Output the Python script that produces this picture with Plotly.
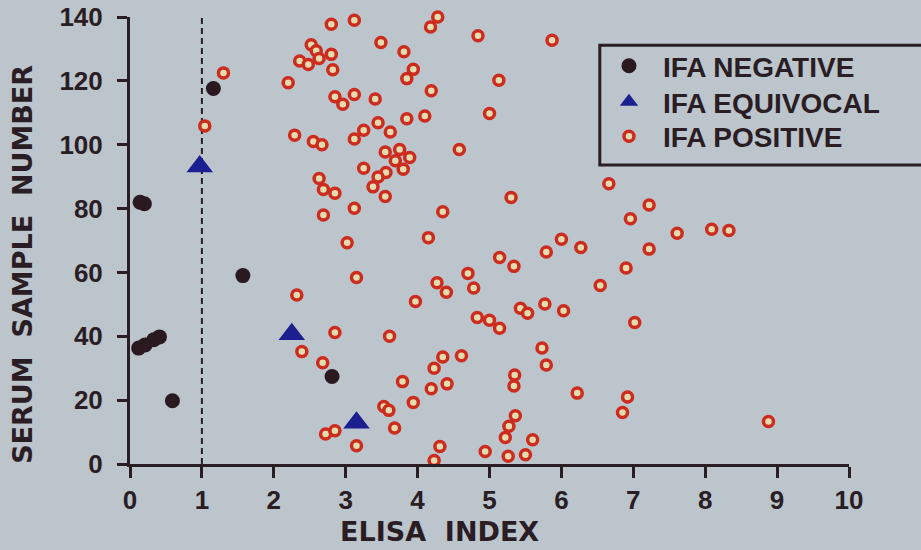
import plotly.graph_objects as go

# ---- data (ELISA index vs serum sample number) ----
neg_x = [0.14, 0.20, 1.16, 1.57, 0.12, 0.21, 0.33, 0.41, 0.59, 2.81]
neg_y = [82.0, 81.5, 117.6, 59.0, 36.3, 37.3, 38.9, 39.8, 19.8, 27.4]

eq_x = [0.97, 2.25, 3.15]
eq_y = [93.2, 40.6, 12.9]

pos_x = [1.30, 1.04, 2.20, 2.29, 2.55, 2.67, 2.80, 3.12, 2.52, 2.59,
         2.63, 2.80, 2.36, 2.48, 2.82, 3.49, 3.81, 3.94, 3.85, 4.19,
         4.18, 4.28, 4.84, 5.87, 5.13, 5.00, 4.58, 2.85, 2.96, 3.12,
         3.41, 3.12, 3.25, 3.45, 3.62, 3.85, 4.10, 3.55, 3.75, 3.69,
         3.89, 3.80, 3.25, 3.56, 3.45, 3.38, 3.55, 2.63, 2.69, 2.85,
         3.12, 2.69, 3.02, 4.15, 4.35, 5.30, 6.66, 7.22, 6.96, 7.61,
         8.09, 8.33, 7.22, 6.27, 6.00, 5.79, 6.90, 6.54, 7.02, 5.14,
         5.34, 4.70, 4.27, 4.40, 4.78, 3.97, 5.43, 5.53, 5.77, 6.03,
         4.83, 5.00, 5.14, 3.61, 3.15, 2.32, 2.85, 2.39, 2.68, 5.73,
         5.79, 4.61, 4.35, 4.23, 5.35, 5.34, 3.79, 4.41, 4.19, 6.22,
         6.92, 6.85, 8.88, 3.53, 3.60, 3.94, 5.36, 5.27, 5.22, 5.60,
         3.68, 2.72, 2.85, 3.15, 4.31, 4.94, 5.26, 5.50, 4.23]
pos_y = [122.5, 105.9, 119.4, 103.0, 101.0, 100.0, 137.7, 139.0, 131.3, 129.4,
         127.0, 128.3, 126.2, 125.1, 123.5, 132.0, 129.1, 123.6, 120.7, 116.9,
         136.9, 140.0, 134.1, 132.7, 120.2, 109.8, 98.5, 115.0, 112.7, 115.7,
         114.3, 101.8, 104.5, 106.9, 104.0, 108.1, 109.0, 97.7, 98.5, 95.0,
         96.0, 92.3, 92.6, 91.3, 89.9, 86.8, 83.8, 89.4, 86.0, 84.8,
         80.1, 78.0, 69.3, 70.9, 79.0, 83.5, 87.8, 81.1, 76.8, 72.3,
         73.5, 73.1, 67.3, 67.8, 70.4, 66.4, 61.4, 55.9, 44.3, 64.7,
         61.9, 59.7, 56.8, 53.8, 55.1, 50.9, 48.8, 47.2, 50.1, 48.0,
         45.9, 45.0, 42.5, 40.0, 58.4, 52.9, 41.2, 35.2, 31.7, 36.3,
         31.0, 33.9, 33.5, 30.0, 27.9, 24.4, 25.8, 25.1, 23.6, 22.2,
         21.0, 16.1, 13.3, 18.0, 16.8, 19.3, 15.1, 11.8, 8.3, 7.6,
         11.3, 9.4, 10.4, 5.7, 5.5, 3.9, 2.4, 2.9, 1.1]

x_ticks = [0, 1, 2, 3, 4, 5, 6, 7, 8, 9, 10]
y_ticks = [0, 20, 40, 60, 80, 100, 120, 140]
cutoff = 1.0

INK = '#2a1d23'
BG = '#bcc4cc'

fig = go.Figure()
fig.add_trace(go.Scatter(
    x=neg_x, y=neg_y, mode='markers', name='IFA NEGATIVE', cliponaxis=False,
    legend='legend',
    marker=dict(symbol='circle', size=15, color='#2a1a20')))
fig.add_trace(go.Scatter(
    x=eq_x, y=eq_y, mode='markers', name='IFA EQUIVOCAL', cliponaxis=False,
    legend='legend2',
    marker=dict(symbol='triangle-up', size=23, color='#1c1f8f')))
fig.add_trace(go.Scatter(
    x=pos_x, y=pos_y, mode='markers', name='IFA POSITIVE', cliponaxis=False,
    legend='legend3',
    marker=dict(symbol='circle', size=10, color='#e3dcae',
                line=dict(color='#cc2b1d', width=3.5))))

fig.add_shape(type='line', xref='x', yref='y', x0=cutoff, x1=cutoff, y0=0, y1=140,
              line=dict(color=INK, width=2, dash='6px,4px'), layer='below')

# legend frame (runs off the right edge as in the original)
fig.add_shape(type='rect', xref='paper', yref='paper', x0=0.6534, x1=1.3,
              y0=0.6687, y1=0.9368, line=dict(color=INK, width=3),
              fillcolor='rgba(0,0,0,0)')

tick_font = dict(family='Liberation Sans, Arial', size=26, color=INK, weight='bold')
title_font = dict(family='DejaVu Sans', size=27, color=INK, weight='bold')
leg_font = dict(family='Liberation Sans, Arial', size=28, color=INK, weight='bold')

fig.update_xaxes(range=[0, 10], tickvals=x_ticks, ticktext=[str(v) for v in x_ticks],
                 showline=True, linecolor=INK, linewidth=3, ticks='outside', ticklen=11,
                 tickwidth=3, tickcolor=INK, showgrid=False, zeroline=False,
                 tickfont=tick_font, ticklabelstandoff=0, automargin=False)
fig.update_yaxes(range=[0, 140], tickvals=y_ticks, ticktext=[str(v) for v in y_ticks],
                 showline=True, linecolor=INK, linewidth=3, ticks='outside', ticklen=10,
                 tickwidth=3, tickcolor=INK, showgrid=False, zeroline=False,
                 tickfont=tick_font, ticklabelstandoff=9, automargin=False)

fig.add_annotation(text='ELISA  INDEX', xref='paper', yref='paper', x=0.4304, y=-0.152,
                   xanchor='center', yanchor='middle', showarrow=False, font=title_font)
fig.add_annotation(text='SERUM  SAMPLE  NUMBER', xref='paper', yref='paper', x=-0.149,
                   y=0.4475, textangle=-90, xanchor='center', yanchor='middle',
                   showarrow=False, font=title_font)

leg_common = dict(x=0.6467, xanchor='left', yanchor='top', bgcolor='rgba(0,0,0,0)',
                  borderwidth=0, itemwidth=58, font=leg_font)

fig.update_layout(
    width=921, height=550,
    margin=dict(l=130, r=72, t=17, b=86, autoexpand=False),
    paper_bgcolor=BG, plot_bgcolor=BG,
    showlegend=True,
    legend=dict(y=0.9463, **leg_common),
    legend2=dict(y=0.8658, **leg_common),
    legend3=dict(y=0.7886, **leg_common),
)

fig.write_html('out.html', config={'displayModeBar': False},
               post_script="document.body.style.margin='0';"
                           "document.body.style.background='" + BG + "';")
